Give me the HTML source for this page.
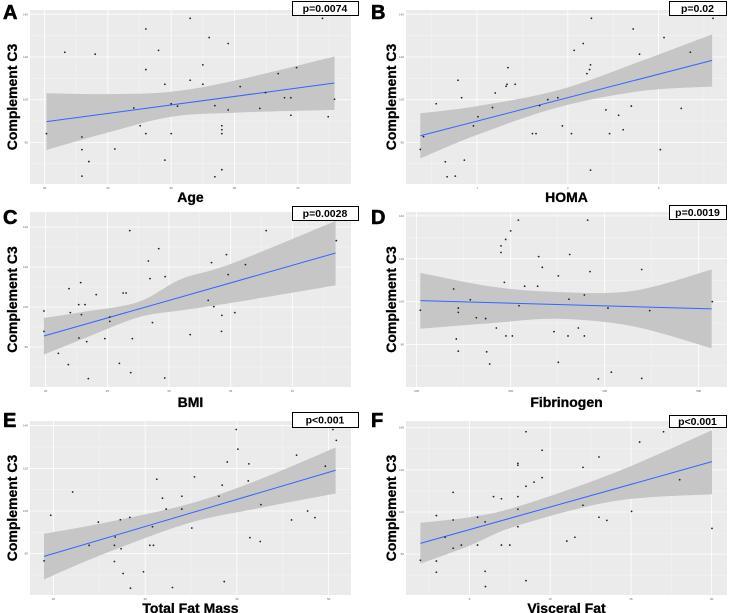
<!DOCTYPE html>
<html><head><meta charset="utf-8"><style>
body{margin:0;background:#fff;width:735px;height:613px;overflow:hidden;font-family:"Liberation Sans",sans-serif}
svg{display:block}
</style></head><body>
<svg id="fig" width="735" height="613"></svg>
<script>
// ---- Panel A: Age ----
const ageX=[30.3,33.2,35.9,35.9,35.9,37,38,41.1,44.1,45.1,46,46,46,48,49,49,50,50,51,53,53,55,55,56,56.9,56.9,58,58,58,58,59,59,60.9,64,64.9,66.9,67.9,68.9,68.9,69.8,73.9,74.8,75.8];
const ageY=[84.1,122.2,82.5,76.6,64.2,71,121.3,76.9,96.1,87.8,133.1,114.1,84.1,123.1,107.2,71.7,98.1,84.1,97,138.1,109.1,116.3,107.2,129.1,97.2,63.9,87.8,85.9,84.1,67.2,126.3,95.2,106.1,95.9,103.3,112.2,100.9,100.9,92.7,115,138.1,92,100.2];
const ageFitX=[30.3,75.8], ageFitY=[89.7,107.8];
const ageBandX=[30.3,40,50,60,75.8], ageBandLo=[76.4,84.6,92,93.9,95.2], ageBandHi=[103,102.6,103.7,108.9,120.2];
const ageTicks=[30,40,50,60,70];
// ---- Panel B: HOMA ----
const homaX=[0.375,0.41,0.55,0.65,0.67,0.76,0.79,0.83,0.86,0.96,1.01,1.17,1.2,1.32,1.33,1.34,1.42,1.61,1.65,1.69,1.78,1.89,1.94,2.04,2.07,2.17,2.21,2.24,2.25,2.26,2.25,2.42,2.46,2.56,2.61,2.7,2.72,2.79,3.02,3.06,3.25,3.35,3.6];
const homaY=[76.7,82.7,98.1,70.9,63.9,64.2,109.1,100.9,71.7,87.7,92,96.3,103.1,106.3,107.2,115,107.2,84.1,84.1,97.2,100,100.9,87.7,84.1,123.1,126.3,112.2,114.1,116.3,138.1,67,95.2,84.1,92.7,85.9,97,133.1,121.3,76.6,129.1,95.9,122.2,138.1];
const homaFitX=[0.375,3.59], homaFitY=[83.1,118.4];
const homaBandX=[0.375,1.0,1.9,2.8,3.59], homaBandLo=[72.5,83.5,96.5,104,106.1], homaBandHi=[93.6,97,104.5,118,130.6];
const homaTicks=[1,2,3];
// ---- Panel C: BMI ----
const bmiX=[19.86,19.86,21.03,21.84,21.89,22,22.7,22.68,22.84,22.9,23.19,23.33,23.46,24.1,24.8,25.2,25.2,25.98,26.28,26.52,26.82,26.9,27.03,28.33,28.46,28.66,29.17,29.66,29.69,31.72,33.18,33.45,33.64,34.29,34.26,34.66,34.8,35.34,36.2,37.88,43.57];
const bmiY=[98,87.8,76.8,71.2,109.2,97.2,84.5,101.2,112.2,96.2,101.2,82.7,64.2,106.2,84.2,95,92.8,71.8,107,107,138.2,67.2,84.2,123,114.2,92.2,129.2,64.5,115.2,86.2,103.3,122.2,100.2,95.8,87.8,126.2,116.2,97.2,121.2,138.2,133.2];
const bmiFitX=[19.86,43.51], bmiFitY=[85.5,127];
const bmiBandX=[19.86,23,27.5,31,35,43.51], bmiBandLo=[76.2,84,94.8,98.3,102,110.8], bmiBandHi=[94.5,97.5,102.5,114,121.5,143];
const bmiTicks=[20,25,30,35,40];
// ---- Panel D: Fibrinogen ----
const fibX=[203.9,239.4,242.2,244.3,244.3,244.3,257.1,263.5,273.4,274.5,277.7,284.8,289.7,289.7,293.3,294.7,295,300,301.8,308.2,308.9,314.9,328.7,329.8,333.7,346.1,350.7,350.7,361,362,362.8,372,378.4,378.4,381.9,384.4,393.3,403.5,407.1,439.4,439.4,447.9,514.5];
const fibY=[96,105.9,82.6,76.9,97,95,100.9,92.5,92.1,76.6,70.9,87.7,122.9,126,109,129,84,133,84,138,98.1,107.2,107.2,121,116,86,112,71.7,84,101.1,122,87.7,103.1,84,138,114,64,97,67.1,115,64.2,95.8,100];
const fibFitX=[203.9,513.8], fibFitY=[100.5,96.6];
const fibBandX=[203.9,280,350,430,513.8], fibBandLo=[87.4,90,92,88.5,78.3], fibBandHi=[113.4,107,104.5,105,115];
const fibTicks=[200,300,400,500];
// ---- Panel E: Total Fat Mass ----
const tfmX=[18.98,19.71,22.1,23.89,24.9,26.65,26.65,26.73,27.3,27.38,27.6,28.33,28.4,29.82,30.51,30.8,30.91,31.27,31.89,32.29,32.98,34,34,35.09,35.38,38.04,38.4,38.62,38.95,39.93,40.11,41.31,41.24,41.42,42.55,42.62,45.96,46.51,47.71,48.51,49.64,50.47,50.84];
const tfmY=[76.6,98,108.9,83.9,94.8,76.3,83.9,87.8,95.9,82.3,70.7,97,63.8,71.5,83.9,92.6,83.9,114.9,106,100.9,64.1,106.9,100.9,92,116,106.9,112.1,66.9,123,138.2,129,122.1,114.1,87.5,85.7,103,95.8,126.2,100,96.9,121,138.2,133.1];
const tfmFitX=[18.98,50.76], tfmFitY=[78.7,119.1];
const tfmBandX=[18.98,25,34.5,42,50.76], tfmBandLo=[67.9,79,94,101,108.2], tfmBandHi=[89.3,94,103,114,129.8];
const tfmTicks=[20,30,40,50];
// ---- Panel F: Visceral Fat ----
const vfX=[1.96,2.95,2.95,2.95,3.49,3.99,3.99,3.99,4.5,5.5,5.5,5.97,5.97,5.99,6.49,6.98,6.98,7.5,8,8,8,8,8,8.5,8.5,8.5,9,9.5,9.5,11.03,11.53,12.03,12.03,13.02,13.02,13.51,15.04,15.54,17.02,18.02,20.02];
const vfY=[77.1,98.3,76.7,71.4,88,109.3,96.2,82.8,84.3,97.5,84.3,95.3,71.8,64.6,107.3,106.3,84.3,84.3,123.1,122.2,107.3,101.3,93,138.1,112.2,67.4,114.2,129.3,116.3,86.2,88,121.2,103.2,126.1,97.5,96,100.3,133.2,138.1,115.3,92.2];
const vfFitX=[1.96,20.02], vfFitY=[85.1,123.9];
const vfBandX=[1.96,5,8,14,20.02], vfBandLo=[75.5,84,93.6,105.2,108.4], vfBandHi=[94.9,97.5,102.6,118.7,138.8];
const vfTicks=[5,10,15,20];
const yTicks=[80,100,120,140];

const NS='http://www.w3.org/2000/svg';
const svg=document.getElementById('fig');
function mk(tag,attrs,parent){const e=document.createElementNS(NS,tag);for(const k in attrs)e.setAttribute(k,attrs[k]);(parent||svg).appendChild(e);return e;}
function smooth(pts){
 let d='';
 for(let i=0;i<pts.length-1;i++){
  const p0=pts[Math.max(0,i-1)],p1=pts[i],p2=pts[i+1],p3=pts[Math.min(pts.length-1,i+2)];
  const c1=[p1[0]+(p2[0]-p0[0])/6,p1[1]+(p2[1]-p0[1])/6];
  const c2=[p2[0]-(p3[0]-p1[0])/6,p2[1]-(p3[1]-p1[1])/6];
  d+=` C${c1[0]},${c1[1]} ${c2[0]},${c2[1]} ${p2[0]},${p2[1]}`;
 }
 return d;
}

const panels=[
 {id:'a',letter:'A',ox:0,oy:0,px:30,py:10,pw:321,ph:174,xd:[27.7,78.4],yd:[60.5,142],xs:ageX,ys:ageY,fx:ageFitX,fy:ageFitY,bx:ageBandX,bl:ageBandLo,bh:ageBandHi,tk:ageTicks,title:'Age',p:'p=0.0074',box:[292,1,66,14],ttlY:197},
 {id:'b',letter:'B',ox:368,oy:0,px:406,py:10,pw:321,ph:174,xd:[0.217,3.754],yd:[60.5,142],xs:homaX,ys:homaY,fx:homaFitX,fy:homaFitY,bx:homaBandX,bl:homaBandLo,bh:homaBandHi,tk:homaTicks,title:'HOMA',p:'p=0.02',box:[669,1,57,14],ttlY:197},
 {id:'c',letter:'C',ox:0,oy:205,px:30,py:212,pw:321,ph:175,xd:[18.73,44.76],yd:[60,147.5],xs:bmiX,ys:bmiY,fx:bmiFitX,fy:bmiFitY,bx:bmiBandX,bl:bmiBandLo,bh:bmiBandHi,tk:bmiTicks,title:'BMI',p:'p=0.0028',box:[292,206,66,14],ttlY:402},
 {id:'d',letter:'D',ox:368,oy:205,px:406,py:212,pw:321,ph:175,xd:[188.7,530.1],yd:[60.2,141.8],xs:fibX,ys:fibY,fx:fibFitX,fy:fibFitY,bx:fibBandX,bl:fibBandLo,bh:fibBandHi,tk:fibTicks,title:'Fibrinogen',p:'p=0.0019',box:[669,205,57,14],ttlY:402},
 {id:'e',letter:'E',ox:0,oy:408,px:30,py:421,pw:321,ph:174,xd:[17.45,52.44],yd:[60.6,142.2],xs:tfmX,ys:tfmY,fx:tfmFitX,fy:tfmFitY,bx:tfmBandX,bl:tfmBandLo,bh:tfmBandHi,tk:tfmTicks,title:'Total Fat Mass',p:'p<0.001',box:[292,412,66,15],ttlY:608},
 {id:'f',letter:'F',ox:368,oy:408,px:406,py:421,pw:321,ph:174,xd:[1.07,20.95],yd:[60.6,143.2],xs:vfX,ys:vfY,fx:vfFitX,fy:vfFitY,bx:vfBandX,bl:vfBandLo,bh:vfBandHi,tk:vfTicks,title:'Visceral Fat',p:'p<0.001',box:[669,415,57,12],ttlY:608}
];

panels.forEach(P=>{
 const g=mk('g',{});
 
 
 const X=v=>P.px+(v-P.xd[0])/(P.xd[1]-P.xd[0])*P.pw;
 const Y=v=>P.py+P.ph-(v-P.yd[0])/(P.yd[1]-P.yd[0])*P.ph;
 const bg=mk('rect',{x:P.px,y:P.py,width:P.pw,height:P.ph,fill:'#ebebeb'},g);
 
 
 const step=P.tk[1]-P.tk[0];
 for(let v=P.tk[0]-step/2;v<=P.xd[1];v+=step){if(v>P.xd[0])mk('line',{x1:X(v),x2:X(v),y1:P.py,y2:P.py+P.ph,stroke:'#f5f5f5','stroke-width':0.5},g);}
 for(let v=70;v<=P.yd[1];v+=20){mk('line',{x1:P.px,x2:P.px+P.pw,y1:Y(v),y2:Y(v),stroke:'#f5f5f5','stroke-width':0.5},g);}
 P.tk.forEach(v=>{
  mk('line',{x1:X(v),x2:X(v),y1:P.py,y2:P.py+P.ph,stroke:'#fff','stroke-width':0.8},g);
  const t=mk('text',{x:X(v),y:P.py+P.ph+5,'font-size':3,'text-anchor':'middle',fill:'#666'},g);
  t.textContent=v;
  
  
 });
 yTicks.forEach(v=>{
  mk('line',{x1:P.px,x2:P.px+P.pw,y1:Y(v),y2:Y(v),stroke:'#fff','stroke-width':0.8},g);
  const t=mk('text',{x:P.px-2,y:Y(v)+1,'font-size':3,'text-anchor':'end',fill:'#666'},g);
  t.textContent=v;
  
  
 });
 const hi=P.bx.map((v,i)=>[X(v),Y(P.bh[i])]);
 const lo=P.bx.map((v,i)=>[X(v),Y(P.bl[i])]).reverse();
 const d='M'+hi[0][0]+','+hi[0][1]+smooth(hi)+' L'+lo[0][0]+','+lo[0][1]+smooth(lo)+'Z';
 const band=mk('path',{d:d,fill:'#c6c6c6'},g);
 
 
 const ln=mk('line',{x1:X(P.fx[0]),y1:Y(P.fy[0]),x2:X(P.fx[1]),y2:Y(P.fy[1]),stroke:'#3366ff','stroke-width':1},g);
 
 
 P.xs.forEach((v,i)=>{
  const c=mk('circle',{cx:X(v),cy:Y(P.ys[i]),r:0.9,fill:'#222'},g);
  
  
 });
 const L=mk('text',{x:P.ox+3,y:P.oy+19,'font-size':20,'font-weight':'bold',fill:'#000',stroke:'#000','stroke-width':0.6},g);
 L.textContent=P.letter;
 
 
 const cy=P.py+P.ph/2, cx=P.ox+(P.id==='a'||P.id==='c'||P.id==='e'?17:28);
 const yl=mk('text',{x:cx,y:cy,'font-size':14,'font-weight':'bold','text-anchor':'middle',transform:`rotate(-90 ${cx} ${cy})`,fill:'#000',stroke:'#000','stroke-width':0.3},g);
 yl.textContent='Complement C3';
 
 
 const xl=mk('text',{x:P.px+P.pw/2,y:P.ttlY+5,'font-size':14,'font-weight':'bold','text-anchor':'middle',fill:'#000',stroke:'#000','stroke-width':0.3},g);
 xl.textContent=P.title;
 
 
 const b=P.box;
 const br=mk('rect',{x:b[0]+0.5,y:b[1]+0.5,width:b[2],height:b[3],fill:'#fff',stroke:'#000','stroke-width':1},g);
 
 
 const pt=mk('text',{x:b[0]+b[2]/2,y:b[1]+b[3]/2+4,'font-size':10.5,'font-weight':'bold','text-anchor':'middle',fill:'#000'},g);
 pt.textContent=P.p;
 
 
});
</script>
</body></html>
